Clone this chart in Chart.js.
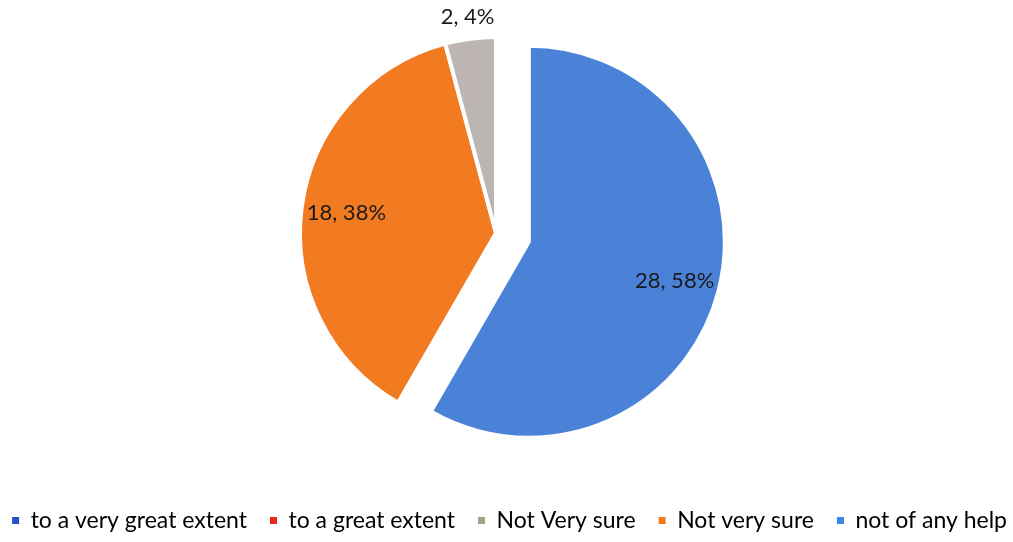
<!DOCTYPE html>
<html>
<head>
<meta charset="utf-8">
<script src="https://cdn.jsdelivr.net/npm/chart.js@4.4.1/dist/chart.umd.min.js"></script>
<style>
  html, body { margin: 0; padding: 0; background: #fff; }
  #wrap { width: 1013px; height: 542px; position: relative; overflow: hidden; }
  #box { position: absolute; left: -21px; top: -20px; width: 1034px; height: 562px; }
</style>
</head>
<body>
<div id="wrap"><div id="box"><canvas id="pieChart"></canvas></div></div>
<script>
// data (listed in drawing order, legend is shown reversed)
const labels = ["not of any help", "Not very sure", "Not Very sure", "to a great extent", "to a very great extent"];
const counts = [28, 18, 2, 0, 0];
const colors = ["#4a82d8", "#f27b22", "#bdb5b2", "#e5261f", "#2452c8"];
const legendColors = ["#3b86e2", "#ef7b1e", "#a99d8c", "#e5261f", "#2452c8"];
const explode = [34, 0, 0, 0, 0];

const total = counts.reduce((a, b) => a + b, 0);
const pieRadius = 196;

// chart.js draws offset/4, grows the arc by it and trims its angle a little,
// so undo that to keep every slice the same size
const explodeFix = {
    id: "explodeFix",
    afterDatasetUpdate(chart) {
        const meta = chart.getDatasetMeta(0);
        meta.data.forEach((arc, i) => {
            if (!explode[i]) return;
            const trim = (explode[i] / Math.PI) / (2 * pieRadius);
            arc.outerRadius = pieRadius - explode[i];
            arc.startAngle -= trim;
            arc.endAngle += trim;
        });
    }
};

// ---------------- DATA LABELS ----------------
const sliceLabels = {
    id: "sliceLabels",
    afterDatasetsDraw(chart) {
        const ctx = chart.ctx;
        const meta = chart.getDatasetMeta(0);
        ctx.save();
        ctx.font = "22px Lato";
        ctx.fillStyle = "#1a1a1a";
        ctx.textAlign = "center";
        ctx.textBaseline = "middle";
        meta.data.forEach((arc, i) => {
            if (!counts[i]) return;
            const p = arc.getProps(["x", "y", "startAngle", "endAngle"], true);
            const mid = (p.startAngle + p.endAngle) / 2;
            const pct = Math.round(counts[i] / total * 100);
            const r = pct < 10 ? pieRadius + 22 : pieRadius * 0.77 + explode[i];
            const x = p.x + Math.cos(mid) * r;
            const y = p.y + Math.sin(mid) * r;
            ctx.fillText(counts[i] + ", " + pct + "%", x, y);
        });
        ctx.restore();
    }
};

new Chart(document.getElementById("pieChart"), {
    type: "pie",
    data: {
        labels: labels,
        datasets: [{
            data: counts,
            backgroundColor: colors,
            borderColor: "#ffffff",
            borderWidth: 4,
            offset: explode.map(v => v * 4)
        }]
    },
    options: {
        responsive: true,
        maintainAspectRatio: false,
        animation: false,
        radius: pieRadius,
        // negative sides only widen the legend row, the pie area stays on the canvas
        layout: { padding: { top: 0, left: -40, right: -17, bottom: 0 } },
        plugins: {
            tooltip: { enabled: false },
            legend: {
                position: "bottom",
                align: "end",
                reverse: true,
                labels: {
                    boxWidth: 7,
                    boxHeight: 7,
                    padding: 23,
                    color: "#1a1a1a",
                    font: { family: "Lato", size: 23 },
                    generateLabels(chart) {
                        return labels.map((name, i) => ({
                            text: name,
                            fillStyle: legendColors[i],
                            strokeStyle: legendColors[i],
                            lineWidth: 0,
                            hidden: false,
                            index: i
                        }));
                    }
                }
            }
        }
    },
    plugins: [explodeFix, sliceLabels]
});
</script>
</body>
</html>
